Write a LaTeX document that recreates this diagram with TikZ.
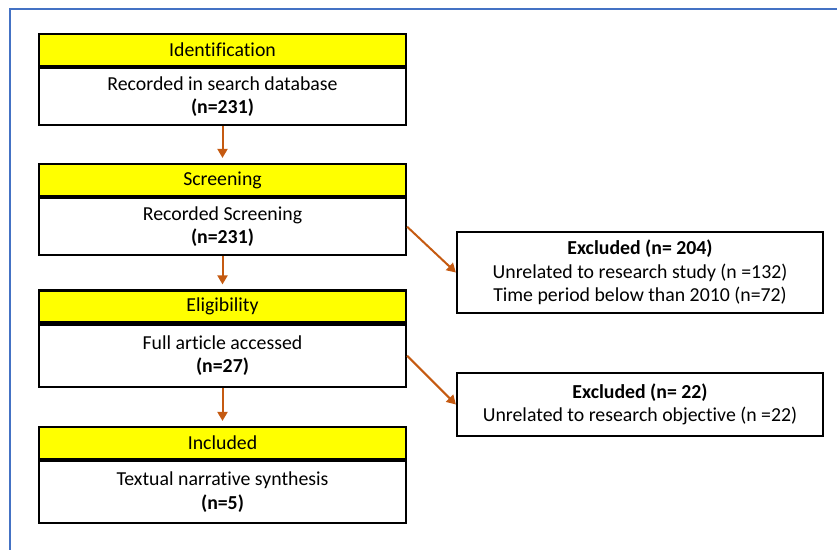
\documentclass[tikz,border=0pt]{standalone}
\usepackage{fontspec}
\setmainfont[Ligatures={NoCommon}]{Carlito}
\usetikzlibrary{arrows.meta,positioning}
\definecolor{arrowbrown}{HTML}{C55A11}
\definecolor{frameblue}{HTML}{4472C4}
\definecolor{stageyellow}{HTML}{FFFF00}

\begin{document}
\begin{tikzpicture}[x=1pt,y=-1pt]
\tikzstyle{stage}=[rectangle, draw=black, fill=stageyellow, line width=2.2pt, minimum width=367pt, minimum height=32pt, inner sep=0pt, font=\fontsize{19.8}{23.5}\selectfont]
\tikzstyle{record}=[rectangle, draw=black, fill=white, line width=2.2pt, minimum width=367pt, inner sep=0pt, align=center, anchor=north, font=\fontsize{19.8}{23.5}\selectfont]
\tikzstyle{excl}=[rectangle, draw=black, fill=white, line width=2.2pt, minimum width=366pt, inner sep=0pt, align=center, font=\fontsize{19.8}{23.5}\selectfont]
\tikzstyle{connect}=[-{Triangle[width=10pt,length=9pt]}, line width=2pt, draw=arrowbrown]
\tikzstyle{frame}=[draw=frameblue, line width=2pt]
\useasboundingbox (0,0) rectangle (837,550);
\draw[frame] (837,9) -- (10,9) -- (10,550);
  % stages down the left
  \node[stage] (ident) at (222.5,50) {Identification};
  \node[record, minimum height=57pt] (identrec) at (ident.south) {Recorded in search database\\\textbf{(n=231)}};
  \node[stage] (screen) at (222.5,180) {Screening};
  \node[record, minimum height=57pt] (screenrec) at (screen.south) {Recorded Screening\\\textbf{(n=231)}};
  \node[stage] (elig) at (222.5,306.5) {Eligibility};
  \node[record, minimum height=62pt] (eligrec) at (elig.south) {Full article accessed\\\textbf{(n=27)}};
  \node[stage] (incl) at (222.5,443) {Included};
  \node[record, minimum height=62pt] (inclrec) at (incl.south) {Textual narrative synthesis\\\textbf{(n=5)}};
  % excluded boxes
  \node[excl, minimum height=81pt] (excla) at (640,272.5) {\textbf{Excluded (n= 204)}\\Unrelated to research study (n =132)\\Time period below than 2010 (n=72)};
  \node[excl, minimum height=63pt] (exclb) at (640,404.5) {\textbf{Excluded (n= 22)}\\Unrelated to research objective (n =22)};
\draw[connect, shorten >=5pt] (identrec) -- (screen);
\draw[connect, shorten >=5pt] (screenrec) -- (elig);
\draw[connect, shorten >=5pt] (eligrec) -- (incl);
\draw[connect] (screenrec.east) -- (excla.west);
\draw[connect] (eligrec.east) -- (exclb.west);
\end{tikzpicture}
\end{document}
